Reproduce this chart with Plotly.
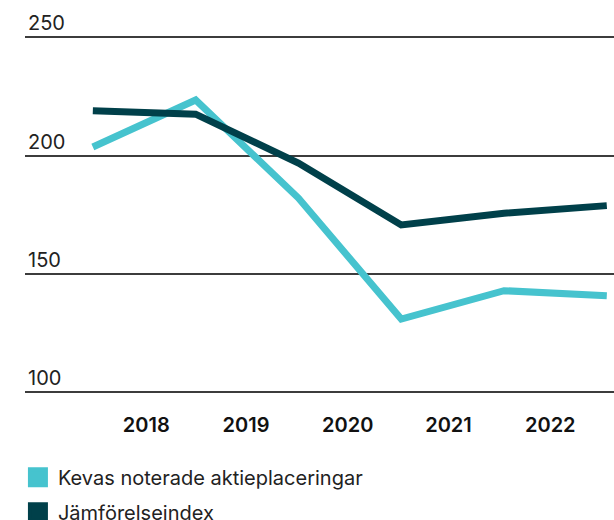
import plotly.graph_objects as go

# Data
points = [0, 1, 2, 3, 4, 5]
kevas = [203.6, 223.5, 182.0, 130.8, 142.8, 140.7]
index_vals = [218.9, 217.5, 196.8, 170.6, 175.6, 178.8]
year_pos = [0.52, 1.49, 2.48, 3.46, 4.45]
year_labels = ["2018", "2019", "2020", "2021", "2022"]
y_ticks = [100, 150, 200, 250]
series_names = ["Kevas noterade aktieplaceringar", "Jämförelseindex"]
colors = ["#46C3CE", "#00404A"]

FONT = "Inter, Roboto, sans-serif"

fig = go.Figure()
for vals, col in zip([kevas, index_vals], colors):
    fig.add_trace(go.Scatter(x=points, y=vals, mode="lines",
                             line=dict(color=col, width=7),
                             showlegend=False, hoverinfo="skip"))
for i, (name, col) in enumerate(zip(series_names, colors)):
    fig.add_trace(go.Scatter(x=[None], y=[None], mode="markers", name=name,
                             legendgroup=f"g{i}",
                             marker=dict(symbol="square", size=16, color=col,
                                         line=dict(color=col, width=4))))

fig.update_layout(
    width=614, height=520,
    margin=dict(l=25, r=0, t=5, b=127, autoexpand=False),
    plot_bgcolor="white", paper_bgcolor="white",
    font=dict(family=FONT, size=20, color="#222222"),
    xaxis=dict(range=[-0.66, 5.07], tickvals=year_pos, ticktext=year_labels,
               showgrid=False, zeroline=False, showline=False, ticks="",
               ticklabelstandoff=18,
               tickfont=dict(family=FONT, size=20, color="#111111", weight=600)),
    yaxis=dict(range=[99.5, 263.7], tickvals=y_ticks, showgrid=True,
               gridcolor="#3c3c3c", gridwidth=2, zeroline=False, showline=False,
               ticks="", ticklabelposition="inside top",
               tickfont=dict(family=FONT, size=20, color="#222222")),
    legend=dict(x=-0.012, y=-0.167, xanchor="left", yanchor="top",
                orientation="v", font=dict(family=FONT, size=20, color="#222222"),
                itemsizing="trace", tracegroupgap=6),
)

fig.write_html("out.html", config={"displayModeBar": False},
               post_script="document.body.style.margin='0';document.body.style.overflow='hidden';")
